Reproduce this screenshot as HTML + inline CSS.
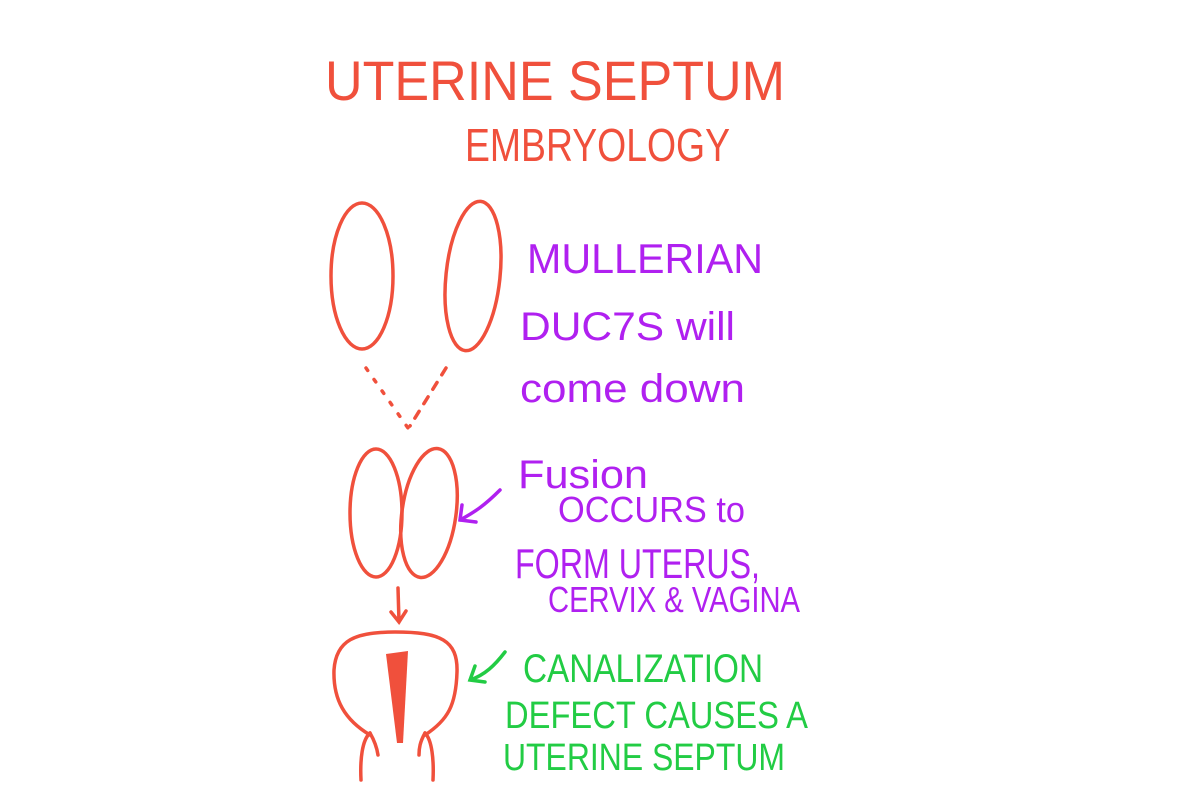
<!DOCTYPE html>
<html><head><meta charset="utf-8"><style>
html,body{margin:0;padding:0;background:#fff;width:1200px;height:800px;overflow:hidden}
text{font-family:"Liberation Sans",sans-serif;}
</style></head><body>
<svg width="1200" height="800" viewBox="0 0 1200 800" xmlns="http://www.w3.org/2000/svg">
<g fill="#f0503c">
<text x="325" y="100" font-size="56" textLength="460" lengthAdjust="spacingAndGlyphs">UTERINE SEPTUM</text>
<text x="465" y="161" font-size="46" textLength="265" lengthAdjust="spacingAndGlyphs">EMBRYOLOGY</text>
</g>
<g fill="none" stroke="#f0503c" stroke-width="3.5" stroke-linecap="round">
<ellipse cx="362" cy="276" rx="31" ry="73"/>
<ellipse cx="473" cy="276" rx="27" ry="75" transform="rotate(6 473 276)"/>
<path d="M366 368 L408 428" stroke-dasharray="3 11"/>
<path d="M446 368 L410 426" stroke-dasharray="8 9"/>
<ellipse cx="376" cy="513" rx="26" ry="64"/>
<ellipse cx="429" cy="513" rx="27" ry="65" transform="rotate(8 429 513)"/>
<path d="M398 588 L399 622 M391 612 L399 622 L406 611"/>
<path d="M370 735 C345 720 333 700 334 670 C336 640 355 632 395 632 C440 632 458 640 457 672 C456 705 448 720 425 735"/>
<path d="M370 733 C362 740 360 760 361 780"/>
<path d="M425 733 C432 740 434 760 433 780"/>
<path d="M370 733 C374 740 377 748 378 755"/>
<path d="M425 733 C420 742 419 748 419 755"/>
</g>
<polygon points="386,654 408,651 403,743 397,743" fill="#f0503c"/>
<g fill="none" stroke="#b020f0" stroke-width="3.5" stroke-linecap="round">
<path d="M500 490 C485 505 475 512 460 520 M462 505 L460 520 L476 522"/>
</g>
<g fill="none" stroke="#22cc44" stroke-width="3.5" stroke-linecap="round">
<path d="M505 652 C495 665 485 675 470 680 M475 666 L470 680 L485 682"/>
</g>
<g fill="#b020f0">
<text x="527" y="273" font-size="42" textLength="236" lengthAdjust="spacingAndGlyphs">MULLERIAN</text>
<text x="520" y="340" font-size="40" textLength="215" lengthAdjust="spacingAndGlyphs">DUC7S will</text>
<text x="520" y="402" font-size="40" textLength="225" lengthAdjust="spacingAndGlyphs">come down</text>
<text x="518" y="488" font-size="40" textLength="130" lengthAdjust="spacingAndGlyphs">Fusion</text>
<text x="558" y="522" font-size="36" textLength="187" lengthAdjust="spacingAndGlyphs">OCCURS to</text>
<text x="515" y="578" font-size="42" textLength="245" lengthAdjust="spacingAndGlyphs">FORM UTERUS,</text>
<text x="548" y="612" font-size="36" textLength="252" lengthAdjust="spacingAndGlyphs">CERVIX &amp; VAGINA</text>
</g>
<g fill="#22cc44">
<text x="523" y="682" font-size="40" textLength="240" lengthAdjust="spacingAndGlyphs">CANALIZATION</text>
<text x="505" y="728" font-size="38" textLength="303" lengthAdjust="spacingAndGlyphs">DEFECT CAUSES A</text>
<text x="503" y="770" font-size="38" textLength="282" lengthAdjust="spacingAndGlyphs">UTERINE SEPTUM</text>
</g>
</svg>
</body></html>
